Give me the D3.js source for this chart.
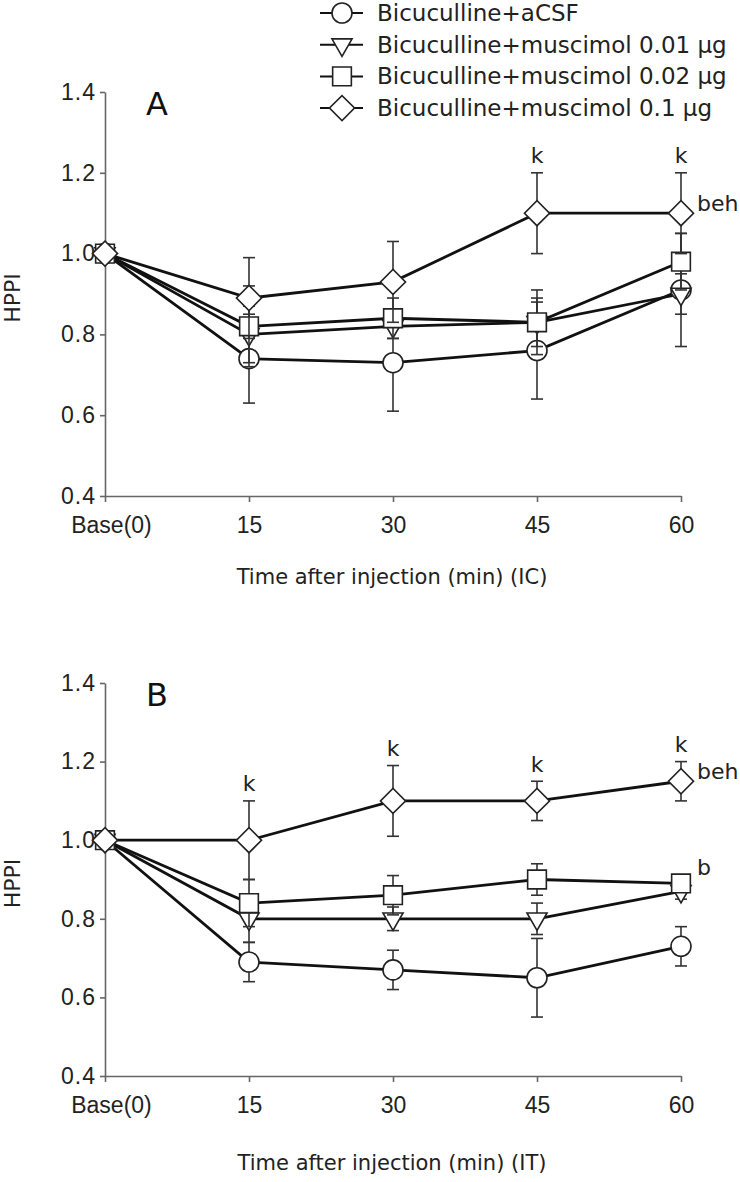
<!DOCTYPE html>
<html>
<head>
<meta charset="utf-8">
<script src="https://cdn.jsdelivr.net/npm/d3@7"></script>
<style>
  body { margin: 0; background: #fff; }
  svg { display: block; font-family: "DejaVu Sans", sans-serif; }
</style>
</head>
<body>
<script>
// время после инъекции
const timeLabels = ['Base(0)', '15', '30', '45', '60'];
const seriesNames = [
  'Bicuculline+aCSF',
  'Bicuculline+muscimol 0.01 µg',
  'Bicuculline+muscimol 0.02 µg',
  'Bicuculline+muscimol 0.1 µg'
];
const shapes = ['circle', 'triangle', 'square', 'diamond'];
const yTicks = [0.4, 0.6, 0.8, 1.0, 1.2, 1.4];

// панель A (IC)
const icAcsf = [1.00, 0.74, 0.73, 0.76, 0.91];
const icAcsfErr = [0, 0.11, 0.12, 0.12, 0.14];
const icMus001 = [1.00, 0.80, 0.82, 0.83, 0.90];
const icMus001Err = [0, 0.07, 0.03, 0.06, 0.05];
const icMus002 = [1.00, 0.82, 0.84, 0.83, 0.98];
const icMus002Err = [0, 0.10, 0.05, 0.08, 0.07];
const icMus01 = [1.00, 0.89, 0.93, 1.10, 1.10];
const icMus01Err = [0, 0.10, 0.10, 0.10, 0.10];
const icK = [3, 4]; // индексы точек с пометкой "k"

// панель B (IT)
const itAcsf = [1.00, 0.69, 0.67, 0.65, 0.73];
const itAcsfErr = [0, 0.05, 0.05, 0.10, 0.05];
const itMus001 = [1.00, 0.80, 0.80, 0.80, 0.87];
const itMus001Err = [0, 0.06, 0.03, 0.04, 0.02];
const itMus002 = [1.00, 0.84, 0.86, 0.90, 0.89];
const itMus002Err = [0, 0.06, 0.05, 0.04, 0.02];
const itMus01 = [1.00, 1.00, 1.10, 1.10, 1.15];
const itMus01Err = [0, 0.10, 0.09, 0.05, 0.05];
const itK = [1, 2, 3, 4];

const width = 740, height = 1182;
const svg = d3.select('body').append('svg')
  .attr('width', width).attr('height', height);

const x = d3.scalePoint(timeLabels, [105, 681]);

// генератор маркеров
function symbolPath(shape) {
  if (shape === 'circle') return d3.symbol(d3.symbolCircle, 314)();
  if (shape === 'triangle') return d3.symbol(d3.symbolTriangle, 175)();
  if (shape === 'square') return d3.symbol(d3.symbolSquare, 350)();
  return d3.symbol(d3.symbolSquare, 315)();
}
function symbolRotate(shape) {
  if (shape === 'triangle') return 180;
  if (shape === 'diamond') return 45;
  return 0;
}

const panels = [
  {
    letter: 'A', yRange: [496, 92], titleY: 577,
    title: 'Time after injection (min) (IC)',
    means: [icAcsf, icMus001, icMus002, icMus01],
    errs: [icAcsfErr, icMus001Err, icMus002Err, icMus01Err],
    k: icK, extra: [{text: 'beh', s: 3, dy: -10}]
  },
  {
    letter: 'B', yRange: [1076, 683], titleY: 1163,
    title: 'Time after injection (min) (IT)',
    means: [itAcsf, itMus001, itMus002, itMus01],
    errs: [itAcsfErr, itMus001Err, itMus002Err, itMus01Err],
    k: itK, extra: [{text: 'beh', s: 3, dy: -10}, {text: 'b', s: 2, dy: -16}]
  }
];

panels.forEach(p => {
  const y = d3.scaleLinear([0.4, 1.4], p.yRange);
  const g = svg.append('g');

  // оси
  const yAxis = g.append('g').attr('transform', `translate(${x(timeLabels[0])},0)`)
    .call(d3.axisLeft(y).tickValues(yTicks).tickFormat(d3.format('.1f'))
      .tickSize(5).tickSizeOuter(0).tickPadding(4));
  const xAxis = g.append('g').attr('transform', `translate(0,${p.yRange[0]})`)
    .call(d3.axisBottom(x).tickSize(6).tickSizeOuter(0).tickPadding(15));
  [yAxis, xAxis].forEach(a => {
    a.select('.domain').attr('stroke', '#666').attr('stroke-width', 1.6);
    a.selectAll('.tick line').attr('stroke', '#666').attr('stroke-width', 1.6);
    a.selectAll('.tick text').attr('fill', '#222').style('font-size', '23px');
  });
  yAxis.selectAll('.tick text').attr('letter-spacing', '1px');
  xAxis.selectAll('.tick text').filter(d => d === timeLabels[0]).attr('dx', 6);

  // подписи осей
  g.append('text')
    .attr('transform', `translate(12,${y(0.89)}) rotate(-90)`)
    .attr('text-anchor', 'middle').attr('dominant-baseline', 'central')
    .style('font-size', '22px').attr('fill', '#222').text('HPPI');
  g.append('text')
    .attr('x', 392).attr('y', p.titleY)
    .attr('text-anchor', 'middle').attr('dominant-baseline', 'central')
    .style('font-size', '21px').attr('fill', '#222').text(p.title);
  g.append('text')
    .attr('x', 146).attr('y', y(1.37))
    .attr('dominant-baseline', 'central')
    .style('font-size', '32px').attr('fill', '#111').text(p.letter);

  const line = d3.line().x((d, i) => x(timeLabels[i])).y(d => y(d));

  // линии
  p.means.forEach(m => {
    g.append('path').datum(m).attr('d', line)
      .attr('fill', 'none').attr('stroke', '#111').attr('stroke-width', 2.8);
  });

  // планки погрешностей и маркеры
  p.means.forEach((m, s) => {
    const pts = m.map((v, i) => ({v, e: p.errs[s][i], t: timeLabels[i]}));
    const eb = g.append('g').attr('stroke', '#333').attr('stroke-width', 1.6);
    pts.filter(d => d.e > 0).forEach(d => {
      const cx = x(d.t);
      eb.append('line').attr('x1', cx).attr('x2', cx)
        .attr('y1', y(d.v - d.e)).attr('y2', y(d.v + d.e));
      [d.v - d.e, d.v + d.e].forEach(c => {
        eb.append('line').attr('x1', cx - 6).attr('x2', cx + 6)
          .attr('y1', y(c)).attr('y2', y(c));
      });
    });
    g.append('g').selectAll('path').data(pts).join('path')
      .attr('d', symbolPath(shapes[s]))
      .attr('transform', d => `translate(${x(d.t)},${y(d.v)}) rotate(${symbolRotate(shapes[s])})`)
      .attr('fill', '#fff').attr('stroke', '#222').attr('stroke-width', 1.6);
  });

  // пометки значимости
  const top = p.means[3], topErr = p.errs[3];
  p.k.forEach(i => {
    g.append('text').attr('x', x(timeLabels[i])).attr('y', y(top[i] + topErr[i]) - 17)
      .attr('text-anchor', 'middle').attr('dominant-baseline', 'central')
      .style('font-size', '22px').attr('fill', '#222').text('k');
  });
  p.extra.forEach(a => {
    g.append('text').attr('x', x(timeLabels[4]) + 16).attr('y', y(p.means[a.s][4]) + a.dy)
      .attr('dominant-baseline', 'central')
      .style('font-size', '22px').attr('fill', '#222').text(a.text);
  });
});

// легенда
const legend = svg.append('g');
seriesNames.forEach((name, i) => {
  const ly = 13 + i * 31.7;
  legend.append('line').attr('x1', 320).attr('x2', 363).attr('y1', ly).attr('y2', ly)
    .attr('stroke', '#111').attr('stroke-width', 2);
  legend.append('path').attr('d', symbolPath(shapes[i]))
    .attr('transform', `translate(342,${ly}) rotate(${symbolRotate(shapes[i])})`)
    .attr('fill', '#fff').attr('stroke', '#222').attr('stroke-width', 1.6);
  legend.append('text').attr('x', 377).attr('y', ly)
    .attr('dominant-baseline', 'central')
    .style('font-size', '23px').attr('fill', '#222').text(name);
});
</script>
</body>
</html>
